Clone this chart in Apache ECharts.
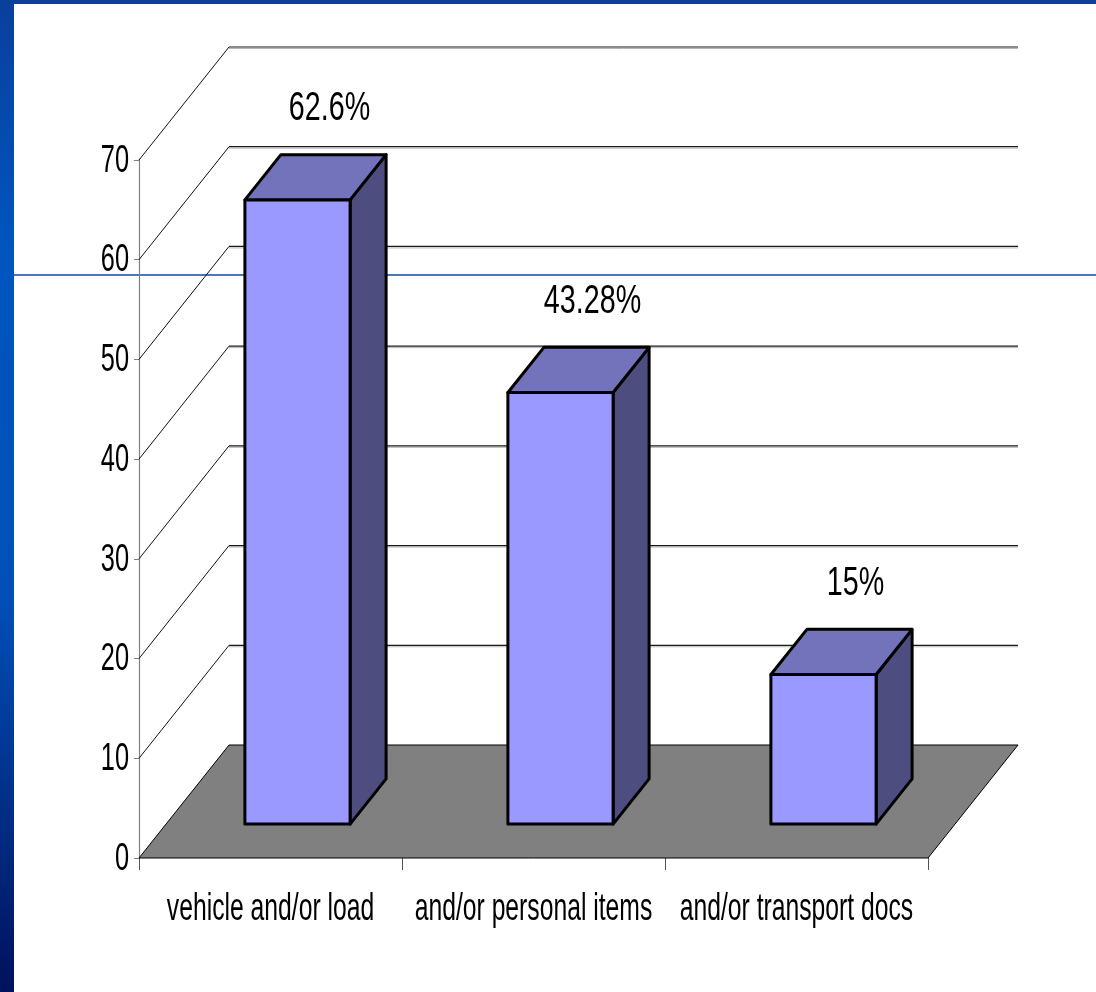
<!DOCTYPE html>
<html>
<head>
<meta charset="utf-8">
<script src="https://cdn.jsdelivr.net/npm/echarts@6/dist/echarts.min.js"></script>
<style>
  html, body { margin: 0; padding: 0; background: #ffffff; }
  #chart { width: 1096px; height: 992px; }
</style>
</head>
<body>
<div id="chart"></div>
<script>
// ---- data ----
const categories = ['vehicle and/or load', 'and/or personal items', 'and/or transport docs'];
const values = [62.6, 43.28, 15];
const valueLabels = ['62.6%', '43.28%', '15%'];
const yTicks = [0, 10, 20, 30, 40, 50, 60, 70];

// ---- style constants ----
const FONT = "'Liberation Sans', Arial, sans-serif";
const SX = 0.65;           // horizontal text squeeze (axis + category text)
const SX_LABEL = 0.70;     // horizontal squeeze for value labels
const DX = 90, DY = -113;  // 3D depth offset (front -> back)
const FRONT = 0.3, DEPTH = 0.4;

const chart = echarts.init(document.getElementById('chart'));

function frameItem(params, api) {
  const cs = params.coordSys;
  const v = api.value(1);
  const p = api.coord([0, v]);
  const y = p[1];
  const x0 = cs.x, x1 = cs.x + cs.width;
  const children = [];
  if (v === 0) {
    children.push({
      type: 'polygon',
      shape: { points: [[x0, y], [x1, y], [x1 + DX, y + DY], [x0 + DX, y + DY]] },
      style: { fill: '#808080', stroke: '#000', lineWidth: 1 }
    });
  } else {
    children.push({
      type: 'line',
      shape: { x1: x0 + DX, y1: y + DY + 1.5, x2: x1 + DX, y2: y + DY + 1.5 },
      style: { stroke: '#b8b8b8', lineWidth: 1 }
    });
    children.push({
      type: 'line',
      shape: { x1: x0 + DX, y1: y + DY, x2: x1 + DX, y2: y + DY },
      style: { stroke: '#1a1a1a', lineWidth: 1.2 }
    });
    children.push({
      type: 'line',
      shape: { x1: x0, y1: y, x2: x0 + DX, y2: y + DY },
      style: { stroke: '#111', lineWidth: 1 }
    });
  }
  children.push({
    type: 'text',
    x: x0 - 10, y: y + 1,
    scaleX: SX,
    style: {
      text: String(v), fill: '#000',
      fontSize: 39, fontFamily: FONT,
      align: 'right', verticalAlign: 'middle'
    }
  });
  return { type: 'group', children: children };
}

function barItem(params, api) {
  const i = api.value(0);
  const val = api.value(1);
  const c0 = api.coord([i, 0]);
  const c1 = api.coord([i, val]);
  const band = api.size([1, 0])[0];
  const bw = band * 0.4;
  const fx = FRONT * DX, fy = FRONT * DY;
  const dx = DEPTH * DX, dy = DEPTH * DY;
  const left = c0[0] - bw / 2 + fx, right = left + bw;
  const top = c1[1] + fy, bottom = c0[1] + fy;
  const stroke = { stroke: '#000', lineWidth: 3, lineJoin: 'round' };
  return {
    type: 'group',
    children: [
      { type: 'polygon', shape: { points: [[right, top], [right + dx, top + dy], [right + dx, bottom + dy], [right, bottom]] },
        style: Object.assign({ fill: '#4d4d80' }, stroke) },
      { type: 'polygon', shape: { points: [[left, top], [right, top], [right + dx, top + dy], [left + dx, top + dy]] },
        style: Object.assign({ fill: '#7373bb' }, stroke) },
      { type: 'rect', shape: { x: left, y: top, width: bw, height: bottom - top },
        style: Object.assign({ fill: '#9999ff' }, stroke) },
      { type: 'text', x: c0[0] + fx + 32, y: top - 91, scaleX: SX_LABEL,
        style: { text: valueLabels[params.dataIndex], fill: '#000', fontSize: 41, fontFamily: FONT,
                 align: 'center', verticalAlign: 'middle' } },
      { type: 'text', x: c0[0], y: c0[1] + 52, scaleX: SX,
        style: { text: categories[params.dataIndex], fill: '#000', fontSize: 38, fontFamily: FONT,
                 align: 'center', verticalAlign: 'middle' } }
    ]
  };
}

chart.setOption({
  backgroundColor: '#ffffff',
  animation: false,
  graphic: [
    { type: 'line', z: 0, shape: { x1: 14, y1: 275, x2: 1096, y2: 275 },
      style: { stroke: '#0b4c9e', lineWidth: 1.5 } },
    { type: 'rect', z: 100, shape: { x: 0, y: 0, width: 1096, height: 4 },
      style: { fill: '#0a3f9a' } },
    { type: 'rect', z: 100, shape: { x: 0, y: 0, width: 14, height: 992 },
      style: { fill: new echarts.graphic.LinearGradient(0, 0, 0, 1, [
        { offset: 0, color: '#0a3f9c' },
        { offset: 0.25, color: '#0055c0' },
        { offset: 0.6, color: '#0050b8' },
        { offset: 1, color: '#00125c' }
      ]) } }
  ],
  grid: { left: 139, right: 168, top: 160, bottom: 134 },
  xAxis: {
    type: 'category',
    data: categories,
    boundaryGap: true,
    axisLine: { show: false },
    axisTick: { show: true, length: 12, lineStyle: { color: '#555', width: 1 } },
    axisLabel: { show: false },
    splitLine: { show: false }
  },
  yAxis: {
    type: 'value',
    min: 0, max: 70, interval: 10,
    axisLine: { show: true, lineStyle: { color: '#808080', width: 1.2 } },
    axisTick: { show: true, length: 5, lineStyle: { color: '#808080' } },
    axisLabel: { show: false },
    splitLine: { show: false }
  },
  series: [
    {
      type: 'custom', z: 1, clip: false,
      renderItem: frameItem,
      data: yTicks.map(v => [0, v]),
      encode: { x: 0, y: 1 }
    },
    {
      type: 'custom', z: 3, clip: false,
      renderItem: barItem,
      data: values.map((v, i) => [i, v]),
      encode: { x: 0, y: 1 }
    }
  ]
});
</script>
</body>
</html>
